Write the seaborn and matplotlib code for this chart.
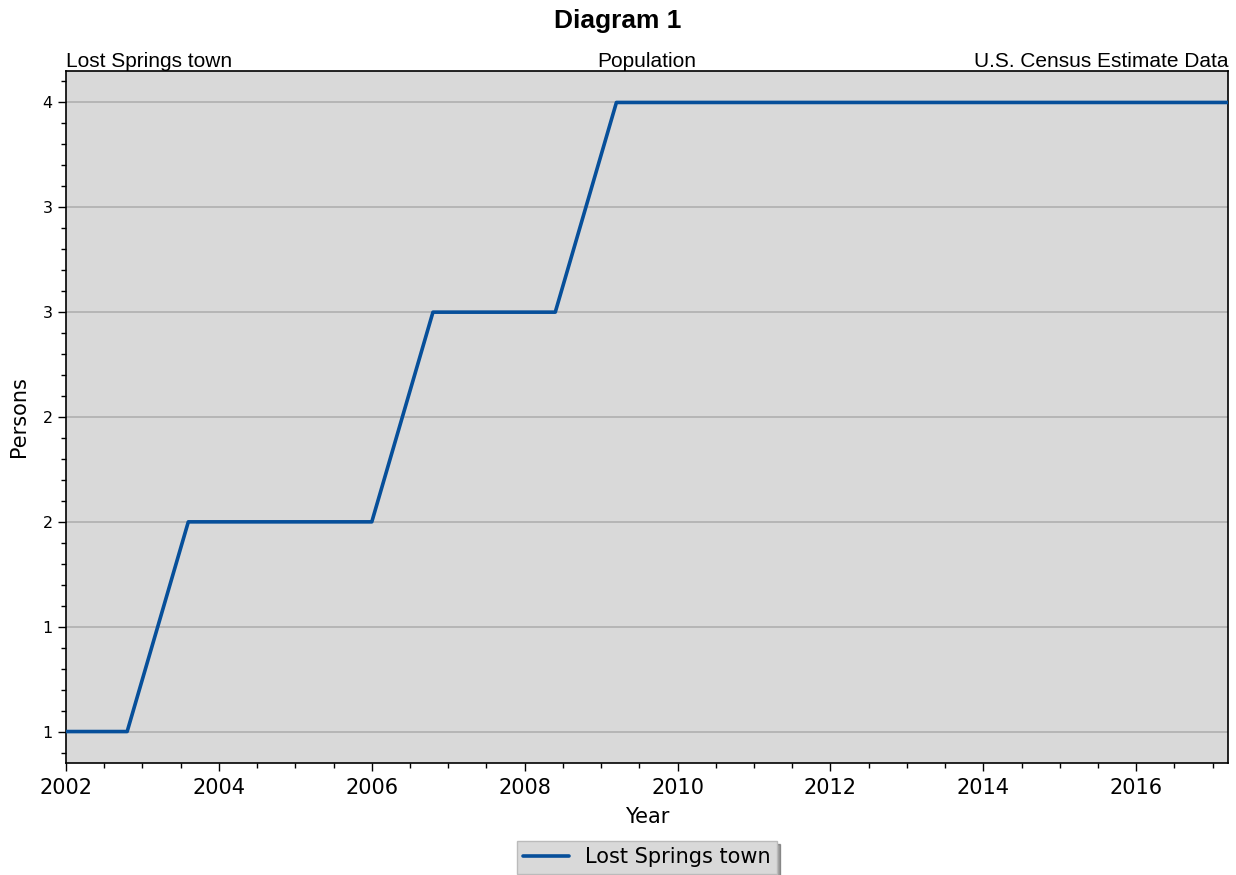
import pandas as pd
import numpy as np
import seaborn as sns
import matplotlib.pyplot as plt
from matplotlib.ticker import MultipleLocator, FormatStrFormatter

# data
years = [2002.0, 2002.8, 2003.6, 2004.4, 2005.2, 2006.0, 2006.8, 2007.6, 2008.4, 2009.2,
         2010.0, 2010.8, 2011.6, 2012.4, 2013.2, 2014.0, 2014.8, 2015.6, 2016.4, 2017.2]
persons = [1, 1, 2, 2, 2, 2, 3, 3, 3, 4,
           4, 4, 4, 4, 4, 4, 4, 4, 4, 4]
place = 'Lost Springs town'

df = pd.DataFrame({'Year': years, 'Persons': persons, 'place': place})

sns.set_style('ticks')
plt.rcParams['font.family'] = ['DejaVu Sans']
plt.rcParams['text.color'] = 'black'
plt.rcParams['axes.labelcolor'] = 'black'
plt.rcParams['xtick.color'] = 'black'
plt.rcParams['ytick.color'] = 'black'

fig = plt.figure(figsize=(12.36, 8.75), dpi=100)
ax = fig.add_axes([66/1236, 1 - 763/875, (1228 - 66)/1236, (763 - 71)/875])
ax.set_facecolor('#d9d9d9')

sns.lineplot(data=df, x='Year', y='Persons', hue='place', palette=['#064f9a'],
             linewidth=2.6, ax=ax, zorder=3)

ax.set_xlim(2002, 2017.2)
ax.set_ylim(0.85, 4.15)
ax.xaxis.set_major_locator(MultipleLocator(2))
ax.xaxis.set_minor_locator(MultipleLocator(0.5))
ax.xaxis.set_major_formatter(FormatStrFormatter('%d'))
ax.yaxis.set_major_locator(MultipleLocator(0.5))
ax.yaxis.set_minor_locator(MultipleLocator(0.1))
ax.yaxis.set_major_formatter(FormatStrFormatter('%d'))
ax.tick_params(axis='x', which='major', labelsize=15, length=6, width=1, direction='out', pad=5)
ax.tick_params(axis='y', which='major', labelsize=11.5, length=6, width=1, direction='out')
ax.tick_params(which='minor', length=3.5, width=1, direction='out')
ax.grid(axis='y', which='major', color='#b0b0b0', linewidth=1.2, zorder=1)
ax.set_axisbelow(True)
for s in ax.spines.values():
    s.set_color('black')
    s.set_linewidth(1.2)

ax.set_xlabel('Year', fontsize=15, labelpad=6)
ax.set_ylabel('Persons', fontsize=15, labelpad=10)

tfont = ['Liberation Sans', 'DejaVu Sans']
ax.set_title(place, loc='left', fontsize=15, family=tfont, pad=1)
ax.set_title('Population', loc='center', fontsize=15, family=tfont, pad=1)
ax.set_title('U.S. Census Estimate Data', loc='right', fontsize=15, family=tfont, pad=1)
fig.suptitle('Diagram 1', fontsize=19, fontweight='bold', family=tfont, y=0.99)

leg = ax.legend(loc='upper center', bbox_to_anchor=(0.5, -0.098), fontsize=15,
                shadow=True, fancybox=False, frameon=True, framealpha=1,
                handlelength=2.2, borderpad=0.3)
leg.get_frame().set_facecolor('#d9d9d9')
leg.get_frame().set_edgecolor('#bbbbbb')

fig.savefig('out.png', dpi=100)
